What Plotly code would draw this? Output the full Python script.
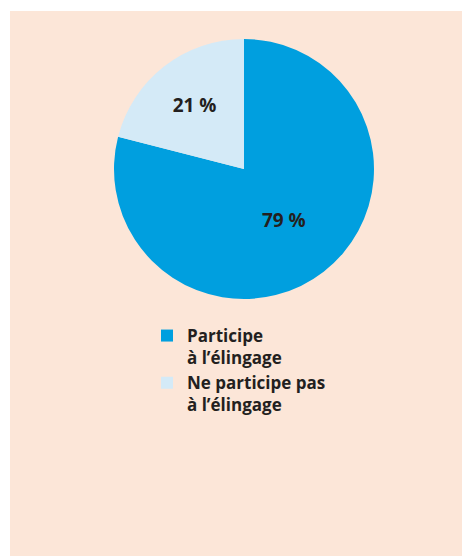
import plotly.graph_objects as go

labels = ["Participe<br>à l’élingage", "Ne participe pas<br>à l’élingage"]
values = [79, 21]
colors = ["#009fdf", "#d4eaf7"]

W, H = 462, 556
fig = go.Figure()
fig.add_trace(go.Pie(
    labels=labels, values=values, sort=False, direction="clockwise", rotation=0,
    marker=dict(colors=colors, line=dict(width=0)),
    texttemplate="%{value} %", textposition="inside", insidetextorientation="horizontal",
    textfont=dict(family="Open Sans", size=19, color="#231f20", weight="bold"),
    domain=dict(x=[114 / W, 374 / W], y=[(H - 299) / H, (H - 39) / H]),
    hoverinfo="skip",
))
fig.update_layout(
    width=W, height=H, margin=dict(l=0, r=0, t=0, b=0),
    paper_bgcolor="white",
    shapes=[dict(type="rect", xref="paper", yref="paper", x0=10 / W, x1=1, y0=0, y1=(H - 11) / H,
                 fillcolor="#fce6d8", line=dict(width=0), layer="below")],
    showlegend=True,
    legend=dict(x=147 / W, y=(H - 318) / H, xanchor="left", yanchor="top", valign="top",
                bgcolor="rgba(0,0,0,0)", itemclick=False,
                font=dict(family="Open Sans", size=17, color="#231f20", weight="bold"),
                tracegroupgap=0),
)
fig.write_html("out.html", config={"displayModeBar": False},
               post_script="document.body.style.margin='0px';document.body.style.overflow='hidden';")
